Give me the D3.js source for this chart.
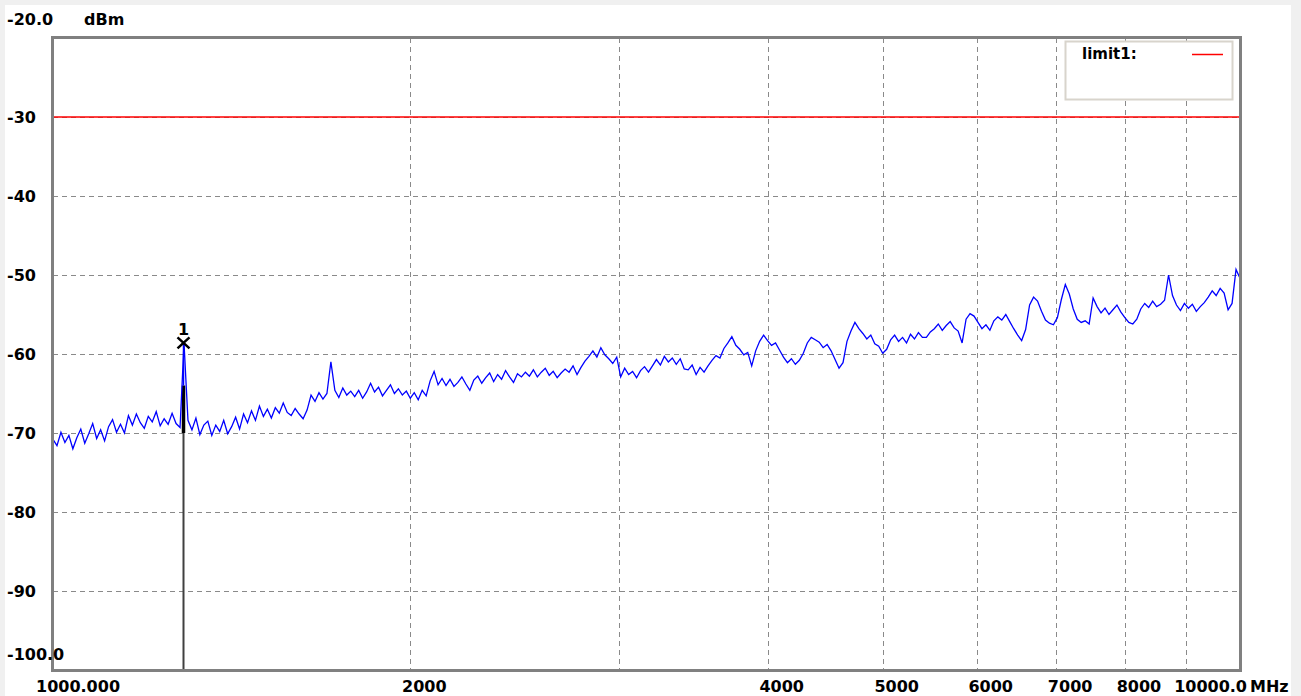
<!DOCTYPE html>
<html>
<head>
<meta charset="utf-8">
<script src="https://cdn.jsdelivr.net/npm/d3@7"></script>
<style>
  body { margin: 0; background: #f0f0f0; }
  svg { display: block; }
  text { font-family: "DejaVu Sans", sans-serif; font-weight: bold; font-size: 16px; fill: #000; }
</style>
</head>
<body>
<div id="chart"></div>
<script>
// spectrum sweep, 1000 - 10000 MHz, log spaced points (dBm)
let trace = [
  -70.8,-71.6,-69.9,-71.2,-70.3,-72.0,-70.6,-69.5,-71.3,-70.1,-68.8,-70.7,-69.6,-71.0,-69.2,-68.3,-69.9,-68.9,-70.0,-67.8,
  -69.0,-67.6,-68.7,-69.4,-67.9,-68.6,-67.3,-69.1,-68.2,-68.9,-67.5,-68.8,-69.3,-58.6,-68.4,-69.6,-68.1,-70.2,-69.0,-68.5,
  -70.3,-69.0,-69.8,-68.4,-70.1,-69.2,-68.0,-69.5,-67.6,-68.7,-67.2,-68.4,-66.6,-67.9,-67.0,-68.1,-66.8,-67.5,-66.2,-67.4,
  -67.8,-66.9,-67.6,-68.2,-67.1,-65.2,-66.0,-64.9,-65.7,-65.0,-61.0,-64.6,-65.5,-64.3,-65.2,-64.7,-65.4,-64.6,-65.6,-64.8,
  -63.7,-64.8,-64.2,-65.3,-64.6,-63.9,-65.0,-64.4,-65.2,-64.7,-65.6,-64.9,-65.8,-64.6,-65.3,-63.4,-62.2,-63.9,-63.1,-64.0,
  -63.2,-64.1,-63.6,-62.9,-63.8,-64.6,-63.3,-62.8,-63.7,-63.0,-62.4,-63.5,-62.6,-63.2,-62.1,-62.9,-63.6,-62.5,-62.9,-62.3,
  -62.8,-62.0,-62.9,-62.3,-61.8,-62.7,-62.2,-63.0,-62.4,-61.9,-62.3,-61.5,-62.6,-61.7,-60.9,-60.3,-59.6,-60.4,-59.2,-60.1,
  -60.6,-61.2,-60.4,-62.9,-61.8,-62.6,-62.2,-63.0,-62.1,-61.6,-62.3,-61.5,-60.7,-61.4,-60.3,-61.0,-60.5,-61.3,-60.6,-61.9,
  -62.0,-61.4,-62.6,-61.7,-62.3,-61.5,-60.8,-60.2,-60.5,-59.3,-58.6,-57.8,-58.9,-59.4,-60.1,-59.8,-61.5,-59.6,-58.4,-57.6,
  -58.3,-58.9,-58.6,-59.5,-60.4,-61.1,-60.6,-61.3,-60.8,-59.9,-58.6,-57.9,-58.2,-58.5,-59.2,-58.8,-59.6,-60.7,-61.8,-61.1,
  -58.4,-57.1,-56.0,-56.8,-57.4,-58.1,-57.6,-58.7,-59.0,-59.9,-59.4,-58.2,-57.6,-58.4,-57.9,-58.6,-57.5,-58.1,-57.3,-57.9,
  -57.9,-57.2,-56.8,-56.2,-57.0,-56.4,-55.9,-56.7,-57.1,-58.6,-55.6,-54.9,-55.2,-56.0,-56.8,-56.3,-57.0,-55.8,-55.3,-55.7,
  -55.0,-55.9,-56.8,-57.6,-58.3,-56.9,-53.8,-52.8,-53.3,-54.6,-55.7,-56.1,-56.3,-55.4,-53.1,-51.2,-52.4,-54.3,-55.6,-56.0,
  -55.8,-56.2,-52.9,-54.0,-54.8,-54.2,-55.0,-54.4,-53.8,-54.7,-55.4,-56.0,-56.2,-55.6,-54.3,-53.6,-54.1,-53.3,-54.0,-53.7,
  -53.2,-50.0,-52.6,-53.8,-54.5,-53.6,-54.2,-53.7,-54.6,-54.0,-53.5,-52.8,-52.0,-52.6,-51.7,-52.3,-54.4,-53.6,-49.3,-50.4
];
let freqStart = 1000, freqStop = 10000;
let levelMin = -100, levelMax = -20;
let yTicks = [-30, -40, -50, -60, -70, -80, -90];
let xGrid = [2000, 3000, 4000, 5000, 6000, 7000, 8000, 9000];
let xLabels = [2000, 4000, 5000, 6000, 7000, 8000];
let limitLevel = -30;
let limitName = 'limit1:';
let markerIndex = 33;
let markerName = '1';
let markerBase = -64;

let width = 1301, height = 696;
let plot = {left: 53, right: 1240, top: 38, bottom: 670};

let svg = d3.select('#chart').append('svg')
  .attr('width', width)
  .attr('height', height);

// white panel
svg.append('rect')
  .attr('x', 5).attr('y', 5)
  .attr('width', 1286).attr('height', height - 5)
  .style('fill', '#fff');

let x = d3.scaleLog().domain([freqStart, freqStop]).range([plot.left, plot.right]);
let y = d3.scaleLinear().domain([levelMin, levelMax]).range([plot.bottom, plot.top]);

let freqOf = i => freqStart * Math.pow(freqStop / freqStart, i / (trace.length - 1));

// grid
let grid = svg.append('g')
  .style('stroke', '#8a8a8a')
  .style('stroke-width', 1)
  .style('stroke-dasharray', '5,4');

grid.selectAll('line.h')
  .data(yTicks)
  .join('line')
  .classed('h', true)
  .attr('x1', plot.left).attr('x2', plot.right)
  .attr('y1', d => Math.round(y(d)) + 0.5)
  .attr('y2', d => Math.round(y(d)) + 0.5);

grid.selectAll('line.v')
  .data(xGrid)
  .join('line')
  .classed('v', true)
  .attr('y1', plot.top).attr('y2', plot.bottom)
  .attr('x1', d => Math.round(x(d)) + 0.5)
  .attr('x2', d => Math.round(x(d)) + 0.5);

// legend box
svg.append('rect')
  .attr('x', 1065.5).attr('y', 41.5)
  .attr('width', 167).attr('height', 58)
  .style('fill', '#fff')
  .style('stroke', '#d8d4cc')
  .style('stroke-width', 2);

svg.append('text')
  .attr('x', 1082).attr('y', 59)
  .style('font-size', '15px')
  .text(limitName);

svg.append('line')
  .attr('x1', 1192).attr('x2', 1223)
  .attr('y1', 54.5).attr('y2', 54.5)
  .style('stroke', '#ff0000')
  .style('stroke-width', 1.5);

// limit line
svg.append('line')
  .attr('x1', plot.left).attr('x2', plot.right)
  .attr('y1', y(limitLevel)).attr('y2', y(limitLevel))
  .style('stroke', '#ff0000')
  .style('stroke-width', 1.6);

// marker stem
let mx = Math.round(x(freqOf(markerIndex))) - 0.5;
svg.append('line')
  .attr('x1', mx).attr('x2', mx)
  .attr('y1', y(markerBase)).attr('y2', plot.bottom)
  .style('stroke', '#404040')
  .style('stroke-width', 2);

svg.append('line')
  .attr('x1', mx).attr('x2', mx)
  .attr('y1', y(markerBase)).attr('y2', y(-70))
  .style('stroke', '#000')
  .style('stroke-width', 3.5);

// trace
let line = d3.line()
  .x((d, i) => x(freqOf(i)))
  .y(d => y(d));

svg.append('path')
  .datum(trace)
  .attr('d', line)
  .style('fill', 'none')
  .style('stroke', '#0000ff')
  .style('stroke-width', 1.3);

// marker symbol
let my = y(trace[markerIndex]);
svg.append('line')
  .attr('x1', mx).attr('x2', mx)
  .attr('y1', my).attr('y2', y(markerBase))
  .style('stroke', '#0000ff')
  .style('stroke-width', 1.5);

svg.append('path')
  .attr('d', `M${mx - 6},${my - 5.5}L${mx + 6},${my + 5.5}M${mx - 6},${my + 5.5}L${mx + 6},${my - 5.5}`)
  .style('stroke', '#000')
  .style('stroke-width', 2.5)
  .style('fill', 'none');

svg.append('text')
  .attr('x', mx).attr('y', my - 8)
  .attr('text-anchor', 'middle')
  .text(markerName);

// frame
svg.append('rect')
  .attr('x', plot.left - 0.5).attr('y', plot.top - 0.5)
  .attr('width', plot.right - plot.left + 1).attr('height', plot.bottom - plot.top + 1)
  .style('fill', 'none')
  .style('stroke', '#808080')
  .style('stroke-width', 3);

// y labels
svg.selectAll('text.ylab')
  .data(yTicks)
  .join('text')
  .classed('ylab', true)
  .attr('x', 7)
  .attr('y', d => y(d) + 6)
  .text(d => d);

svg.append('text').attr('x', 7).attr('y', y(levelMax) - 13).text(levelMax.toFixed(1));
svg.append('text').attr('x', 7).attr('y', y(levelMin) - 10).text(levelMin.toFixed(1));
svg.append('text').attr('x', 84).attr('y', y(levelMax) - 13).text('dBm');

// x labels
let xLabelY = 692;
svg.append('text')
  .attr('x', x(freqStart) - 17).attr('y', xLabelY)
  .text(freqStart.toFixed(3));

svg.selectAll('text.xlab')
  .data(xLabels)
  .join('text')
  .classed('xlab', true)
  .attr('x', d => x(d) + 14)
  .attr('y', xLabelY)
  .attr('text-anchor', 'middle')
  .text(d => d);

svg.append('text')
  .attr('x', x(freqStop) + 7).attr('y', xLabelY)
  .attr('text-anchor', 'end')
  .text(freqStop.toFixed(1));

svg.append('text')
  .attr('x', x(freqStop) + 10).attr('y', xLabelY)
  .text('MHz');
</script>
</body>
</html>
